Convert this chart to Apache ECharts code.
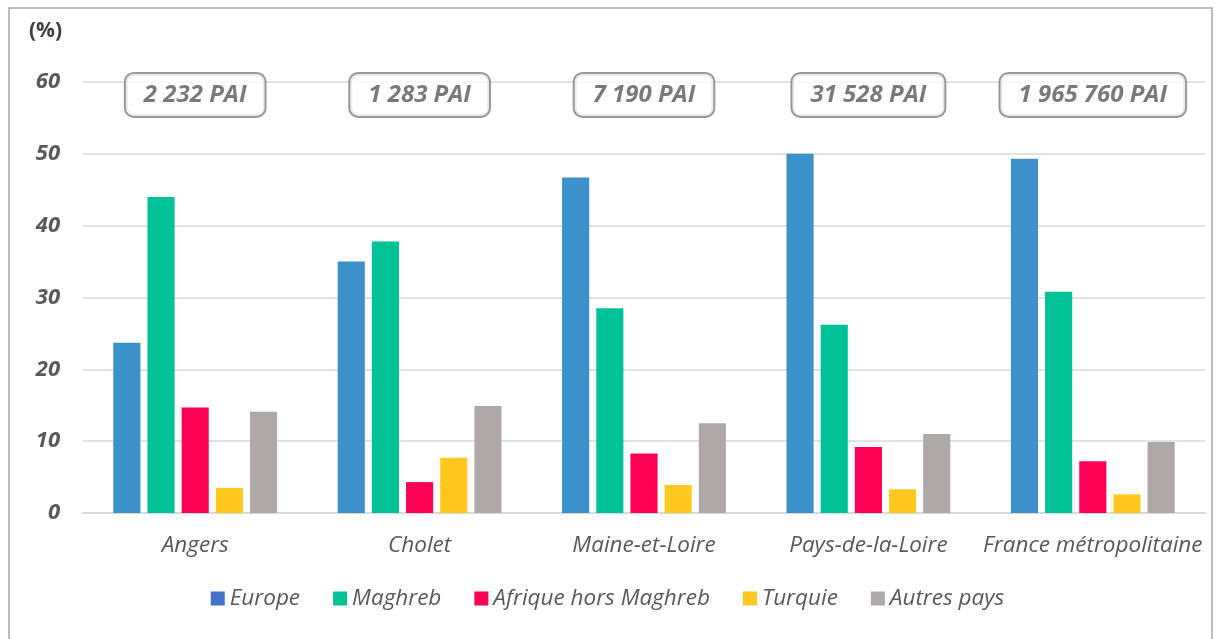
<!DOCTYPE html>
<html><head><meta charset="utf-8">
<script src="https://cdn.jsdelivr.net/npm/echarts@6/dist/echarts.min.js"></script>
<style>html,body{margin:0;padding:0;background:#fff}#c{width:1215px;height:639px}</style>
</head><body><div id="c"></div>
<script>
const categories = ['Angers', 'Cholet', 'Maine-et-Loire', 'Pays-de-la-Loire', 'France métropolitaine'];
const paiLabels = ['2 232 PAI', '1 283 PAI', '7 190 PAI', '31 528 PAI', '1 965 760 PAI'];
const europe = [23.7, 35.0, 46.7, 50.0, 49.3];
const maghreb = [44.0, 37.8, 28.5, 26.2, 30.8];
const afrique = [14.7, 4.3, 8.3, 9.2, 7.2];
const turquie = [3.5, 7.7, 3.9, 3.3, 2.6];
const autres = [14.1, 14.9, 12.5, 11.0, 9.9];
const yTicks = [0, 10, 20, 30, 40, 50, 60];

const seriesDefs = [
  ['Europe', europe, '#3D91CB'],
  ['Maghreb', maghreb, '#00C297'],
  ['Afrique hors Maghreb', afrique, '#FF0055'],
  ['Turquie', turquie, '#FFC81E'],
  ['Autres pays', autres, '#ADA9A8']
];
const FONT = '"Open Sans", Lato, sans-serif';
const TXT = '#595959';
const LABEL_Y = 58.2;

const chart = echarts.init(document.getElementById('c'), null, {renderer: 'canvas'});
const series = seriesDefs.map(([n, d, c]) => ({
  name: n, type: 'bar', data: d, barGap: '26%', barCategoryGap: '27%',
  itemStyle: {color: c}, emphasis: {disabled: true}
}));
series.push({
  name: 'pai', type: 'scatter', symbolSize: 0, silent: true, z: 10,
  data: paiLabels.map(() => LABEL_Y),
  label: {
    show: true, position: 'inside',
    formatter: p => paiLabels[p.dataIndex],
    fontFamily: FONT, fontSize: 24, fontWeight: 'bold', fontStyle: 'italic', color: TXT,
    backgroundColor: '#fff', borderColor: '#7F7F7F', borderWidth: 2, borderRadius: 8,
    padding: [9, 18, 9, 18]
  }
});

chart.setOption({
  animation: false,
  backgroundColor: '#fff',
  graphic: [{
    type: 'rect', shape: {x: 9, y: 8, width: 1203, height: 700},
    style: {fill: 'none', stroke: '#A6A6A6', lineWidth: 1.5}, z: -1
  }, {
    type: 'text', left: 29, top: 21,
    style: {text: '(%)', fontFamily: FONT, fontSize: 21, fontWeight: 'bold', fill: '#404040'}
  }],
  grid: {left: 83, right: 10, top: 82, bottom: 126, containLabel: false},
  legend: {
    bottom: 24, left: 'center', itemWidth: 14, itemHeight: 14, itemGap: 33,
    icon: 'rect',
    textStyle: {fontFamily: FONT, fontSize: 22.5, fontStyle: 'italic', color: TXT},
    data: [
      {name: 'Europe', itemStyle: {color: '#4472C4'}},
      'Maghreb', 'Afrique hors Maghreb', 'Turquie', 'Autres pays'
    ]
  },
  xAxis: {
    type: 'category', data: categories,
    axisLine: {lineStyle: {color: '#D9D9D9', width: 2}},
    axisTick: {show: false},
    axisLabel: {interval: 0, fontFamily: FONT, fontSize: 22.5, fontStyle: 'italic', color: TXT, margin: 21}
  },
  yAxis: {
    type: 'value', min: 0, max: 60, interval: 10,
    axisLine: {show: false}, axisTick: {show: false},
    splitLine: {lineStyle: {color: '#D9D9D9', width: 1.5}},
    axisLabel: {
      fontFamily: FONT, fontSize: 22, fontWeight: 'bold', fontStyle: 'italic', color: TXT, margin: 23,
      formatter: v => yTicks.includes(v) ? String(v) : ''
    }
  },
  series: series
});
</script></body></html>
